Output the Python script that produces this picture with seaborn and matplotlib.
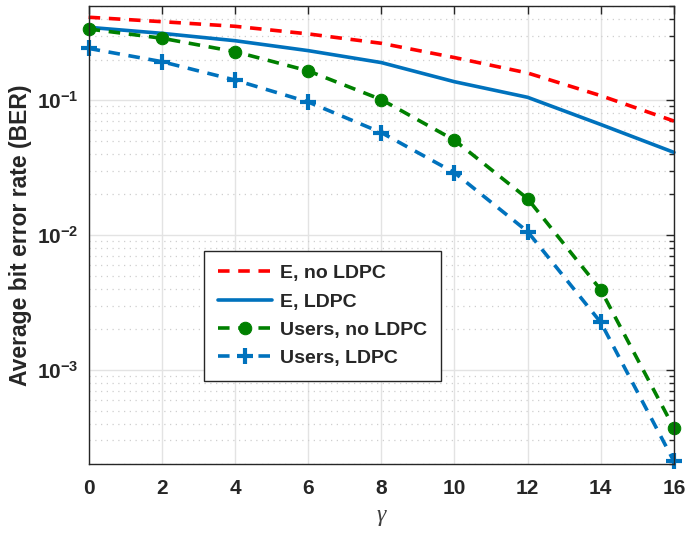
import numpy as np
import pandas as pd
import matplotlib
matplotlib.use("Agg")
import matplotlib.pyplot as plt
import seaborn as sns
from matplotlib.ticker import LogLocator, NullFormatter, FuncFormatter

# values
gamma = [0, 2, 4, 6, 8, 10, 12, 14, 16]
ber_e_no_ldpc = [0.412, 0.382, 0.353, 0.310, 0.264, 0.207, 0.159, 0.108, 0.070]
ber_e_ldpc = [0.347, 0.313, 0.276, 0.233, 0.190, 0.137, 0.105, 0.066, 0.041]
ber_users_no_ldpc = [0.337, 0.288, 0.229, 0.165, 0.101, 0.0505, 0.0186, 0.00392, 0.00037]
ber_users_ldpc = [0.242, 0.193, 0.141, 0.097, 0.0575, 0.029, 0.0106, 0.00225, 0.00021]
labels = ["E, no LDPC", "E, LDPC", "Users, no LDPC", "Users, LDPC"]

sns.set_style("white")
plt.rcParams["font.family"] = ["Liberation Sans", "DejaVu Sans"]
plt.rcParams["mathtext.fontset"] = "custom"
plt.rcParams["mathtext.rm"] = "Liberation Sans"
plt.rcParams["mathtext.bf"] = "Liberation Sans:bold"

txt = "#262626"
fig = plt.figure(figsize=(6.87, 5.36), dpi=100)
ax = fig.add_axes([0.129, 0.134, 0.852, 0.855])

dash = (0, (3.2, 2.4))
series = [ber_e_no_ldpc, ber_e_ldpc, ber_users_no_ldpc, ber_users_ldpc]
styles = [
    dict(color="#FF0000", linestyle=dash, marker=None),
    dict(color="#0072BD", linestyle="-", marker=None),
    dict(color="#008000", linestyle=dash, marker="o", markersize=9,
         markerfacecolor="#008000", markeredgecolor="#008000"),
    dict(color="#0072BD", linestyle=dash, marker="+", markersize=11,
         markeredgewidth=3, markeredgecolor="#0072BD"),
]
for vals, lab, st in zip(series, labels, styles):
    df = pd.DataFrame({"gamma": gamma, "ber": vals})
    sns.lineplot(data=df, x="gamma", y="ber", ax=ax, label=lab, linewidth=2.6,
                 clip_on=False, **st)

ax.set_yscale("log")
ax.set_xlim(0, 16)
ax.set_ylim(2e-4, 0.5)
ax.set_xticks(range(0, 17, 2))
ax.yaxis.set_major_locator(LogLocator(base=10, numticks=10))
ax.yaxis.set_major_formatter(FuncFormatter(lambda v, p: r"$\mathbf{10^{%d}}$" % round(np.log10(v))))
ax.yaxis.set_minor_locator(LogLocator(base=10, subs=np.arange(2, 10), numticks=20))
ax.yaxis.set_minor_formatter(NullFormatter())

ax.grid(True, which="major", color="#e3e3e3", linewidth=1.0, linestyle="-")
ax.grid(True, which="minor", axis="y", color="#cfcfcf", linewidth=0.9, linestyle=(0, (1, 3.6)))
ax.set_axisbelow(True)

ax.tick_params(which="both", direction="in", top=True, right=True, colors=txt,
               labelcolor=txt)
ax.tick_params(which="major", length=6, width=1, labelsize=15)
ax.tick_params(axis="x", which="major", pad=11)
ax.tick_params(axis="y", which="major", pad=7)
ax.tick_params(which="minor", length=3.5, width=1)
for lbl in ax.get_xticklabels():
    lbl.set_fontweight("bold")
for sp in ax.spines.values():
    sp.set_color(txt)
    sp.set_linewidth(1.0)

ax.set_xlabel("γ", fontsize=17, family="Liberation Serif", style="italic",
              color="#404040", labelpad=5)
ax.set_ylabel("Average bit error rate (BER)", fontsize=16.5, fontweight="bold",
              color=txt, labelpad=4)

leg = ax.legend(loc="upper left", bbox_to_anchor=(0.197, 0.465), borderaxespad=0,
                fancybox=False, framealpha=1, edgecolor=txt, handlelength=2.8,
                prop={"weight": "bold", "size": 14}, labelspacing=0.55,
                borderpad=0.7, handletextpad=0.4)
leg.get_frame().set_linewidth(1.0)

fig.savefig("out.png", dpi=100)
